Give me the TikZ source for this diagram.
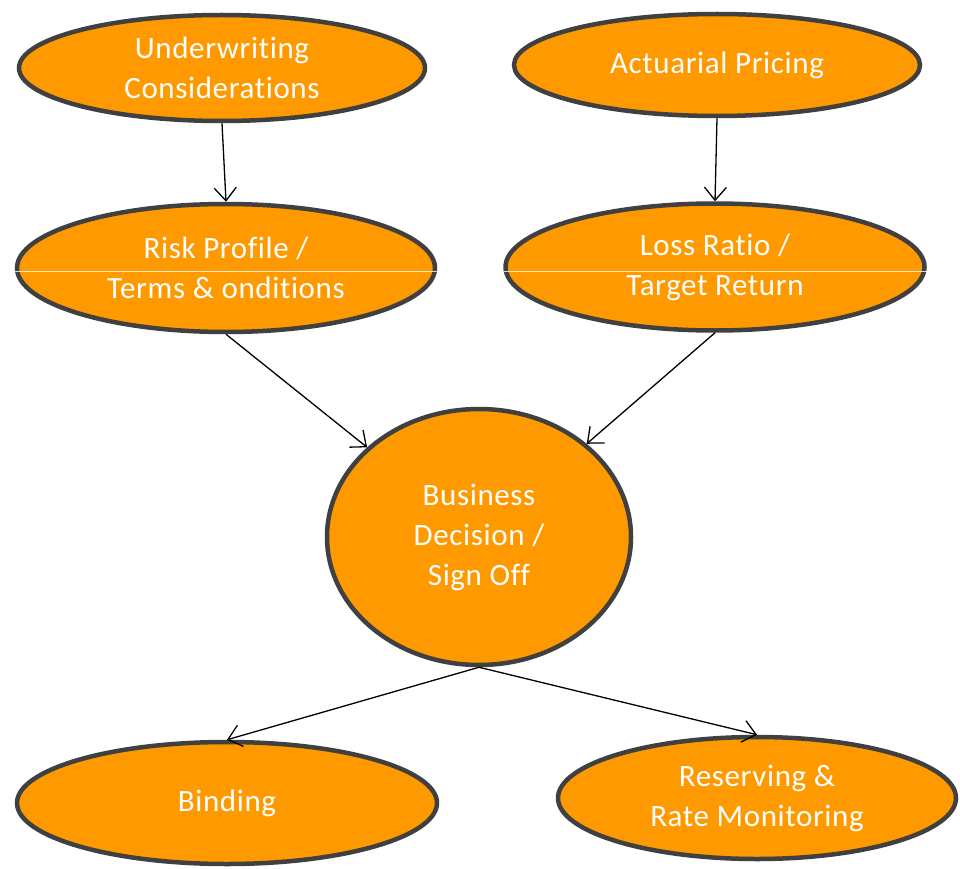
\documentclass[tikz,border=0pt]{standalone}
\usepackage{fontspec}
\setmainfont{Carlito}[Ligatures={NoCommon}, LetterSpace=2]
\usetikzlibrary{shapes.geometric,arrows.meta}
\definecolor{orangefill}{RGB}{255,153,0}
\definecolor{rimgrey}{RGB}{64,64,64}
\tikzset{
  oval/.style={ellipse, draw=rimgrey, line width=4.5pt, fill=orangefill, inner sep=0pt,
    text=white, align=center, font=\fontsize{31}{40}\selectfont},
  link/.style={draw=black, line width=1.3pt, -{Straight Barb[length=13pt,width=22pt,line width=1.3pt]}},
  glitch/.style={draw=white, line width=0.8pt, opacity=0.8}
}
\begin{document}
\begin{tikzpicture}[x=1pt,y=-1pt]
\useasboundingbox (0,0) rectangle (960,869);
\node[oval, minimum width=406, minimum height=106] (uc) at (222,68) {Underwriting\\Considerations};
\node[oval, minimum width=406, minimum height=102] (ap) at (717,65) {Actuarial Pricing};
\node[oval, minimum width=418, minimum height=128] (rp) at (226,268) {Risk Profile /\\Terms \& onditions};
\node[oval, minimum width=419, minimum height=127] (lr) at (715,267) {Loss Ratio /\\Target Return};
\node[oval, minimum width=304, minimum height=256] (bd) at (479,537) {Business\\Decision /\\Sign Off};
\node[oval, minimum width=420, minimum height=122] (bin) at (227,803) {Binding};
\node[oval, minimum width=398, minimum height=122] (res) at (757,798) {Reserving \&\\Rate Monitoring};
\coordinate (g1) at (15,271);
\coordinate (g2) at (438,271);
\coordinate (g3) at (504,271);
\coordinate (g4) at (927,271);
\draw[glitch] (g1) -- (g2);
\draw[glitch] (g3) -- (g4);
\draw[link] (uc.south) -- (rp.north);
\draw[link] (ap.south) -- (lr.north);
\draw[link] (rp.south) -- (bd);
\draw[link] (lr.south) -- (bd);
\draw[link] (bd.south) -- (bin.north);
\draw[link] (bd.south) -- (res.north);
\end{tikzpicture}
\end{document}
